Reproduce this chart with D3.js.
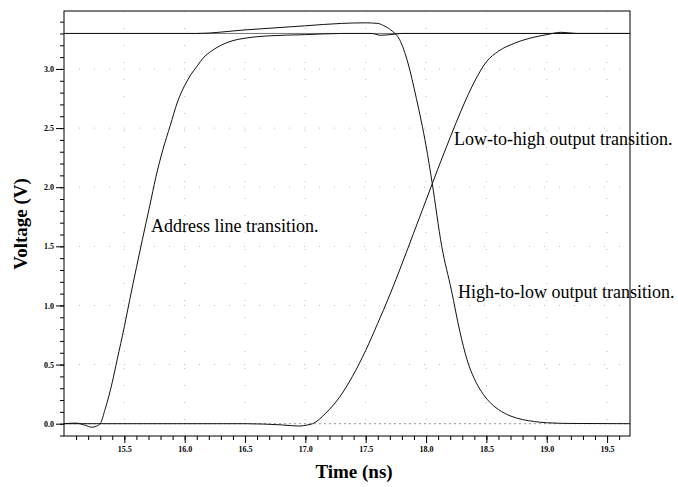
<!DOCTYPE html>
<html>
<head>
<meta charset="utf-8">
<script src="https://cdn.jsdelivr.net/npm/d3@7"></script>
<style>
  body { margin: 0; background: #fff; }
  text { font-family: "Liberation Serif", "Times New Roman", serif; }
</style>
</head>
<body>
<div id="plot"></div>
<script>
// time (ns) / voltage (V)
const addressT = [15.0, 15.1, 15.18, 15.23, 15.27, 15.3, 15.34, 15.4, 15.44, 15.5, 15.545, 15.6, 15.65, 15.71, 15.76, 15.82, 15.88, 15.94, 16.0, 16.05, 16.1, 16.16, 16.22, 16.3, 16.4, 16.5, 16.7, 17.0, 17.3, 17.55, 17.62, 17.7, 17.8, 19.69];
const addressV = [0.0, 0.005, -0.015, -0.03, -0.02, 0.0, 0.12, 0.35, 0.54, 0.82, 1.05, 1.32, 1.56, 1.84, 2.08, 2.32, 2.52, 2.72, 2.86, 2.95, 3.02, 3.1, 3.15, 3.2, 3.24, 3.26, 3.28, 3.29, 3.3, 3.3, 3.285, 3.29, 3.3, 3.3];

const highLowT = [15.0, 16.1, 16.5, 17.0, 17.3, 17.5, 17.6, 17.66, 17.72, 17.78, 17.85, 17.92, 18.0, 18.05, 18.13, 18.21, 18.28, 18.34, 18.4, 18.46, 18.52, 18.6, 18.7, 18.8, 18.9, 19.0, 19.2, 19.69];
const highLowV = [3.3, 3.3, 3.33, 3.365, 3.385, 3.39, 3.385, 3.36, 3.32, 3.25, 3.05, 2.75, 2.35, 2.04, 1.5, 1.13, 0.78, 0.54, 0.38, 0.27, 0.19, 0.12, 0.065, 0.035, 0.018, 0.008, 0.002, 0.0];

const lowHighT = [15.0, 16.5, 16.8, 16.95, 17.02, 17.06, 17.17, 17.28, 17.39, 17.5, 17.6, 17.7, 17.8, 17.9, 18.0, 18.1, 18.2, 18.3, 18.4, 18.5, 18.6, 18.74, 18.9, 19.0, 19.12, 19.25, 19.69];
const lowHighV = [0.0, 0.0, -0.01, -0.02, -0.01, 0.0, 0.09, 0.22, 0.4, 0.62, 0.85, 1.09, 1.35, 1.62, 1.89, 2.16, 2.42, 2.67, 2.89, 3.06, 3.15, 3.22, 3.27, 3.29, 3.31, 3.3, 3.3];

const railV = 3.3;
const xMajor = [15.5, 16.0, 16.5, 17.0, 17.5, 18.0, 18.5, 19.0, 19.5];
const yMajor = [0.0, 0.5, 1.0, 1.5, 2.0, 2.5, 3.0];

const labels = [
  { text: 'Address line transition.', t: 15.721, v: 1.62 },
  { text: 'Low-to-high output transition.', t: 18.232, v: 2.355 },
  { text: 'High-to-low output transition.', t: 18.265, v: 1.06 }
];

const W = 678, H = 487;
const m = { left: 64, right: 630, top: 11, bottom: 436 };

const svg = d3.select('#plot').append('svg')
  .attr('width', W)
  .attr('height', H);

const x = d3.scaleLinear().domain([15.0, 19.69]).range([m.left, m.right]);
const y = d3.scaleLinear().domain([-0.104, 3.49]).range([m.bottom, m.top]);

// sparse dotted grid
svg.append('g').selectAll('line')
  .data(yMajor.concat([3.3]))
  .enter().append('line')
  .attr('x1', m.left).attr('x2', m.right)
  .attr('y1', d => y(d)).attr('y2', d => y(d))
  .attr('stroke', '#bbb')
  .attr('stroke-dasharray', '1,14');
svg.append('g').selectAll('line')
  .data(xMajor)
  .enter().append('line')
  .attr('x1', d => x(d)).attr('x2', d => x(d))
  .attr('y1', m.top).attr('y2', m.bottom)
  .attr('stroke', '#bbb')
  .attr('stroke-dasharray', '1,16');

// rails
svg.append('line')
  .attr('x1', m.left).attr('x2', m.right)
  .attr('y1', y(railV)).attr('y2', y(railV))
  .attr('stroke', '#777');
svg.append('line')
  .attr('x1', m.left).attr('x2', m.right)
  .attr('y1', y(0)).attr('y2', y(0))
  .attr('stroke', '#999')
  .attr('stroke-dasharray', '2,3');

// axes
const xAxis = d3.axisBottom(x)
  .tickValues(d3.range(151, 197).map(d => d / 10))
  .tickSize(4)
  .tickFormat('');
svg.append('g').attr('transform', `translate(0,${m.bottom})`).call(xAxis);
const xMaj = d3.axisBottom(x)
  .tickValues(xMajor)
  .tickSize(7)
  .tickPadding(3)
  .tickFormat(d3.format('.1f'));
svg.append('g').attr('class', 'ax').attr('transform', `translate(0,${m.bottom})`).call(xMaj);

const yAxis = d3.axisLeft(y)
  .tickValues(d3.range(-1, 35).map(d => d / 10))
  .tickSize(4)
  .tickFormat('');
svg.append('g').attr('transform', `translate(${m.left},0)`).call(yAxis);
const yMaj = d3.axisLeft(y)
  .tickValues(yMajor)
  .tickSize(8)
  .tickPadding(2)
  .tickFormat(d3.format('.1f'));
svg.append('g').attr('class', 'ax').attr('transform', `translate(${m.left},0)`).call(yMaj);

svg.selectAll('.domain').remove();
svg.selectAll('.tick line').attr('stroke', '#000');
svg.selectAll('.ax text')
  .style('font-family', '"Liberation Serif", serif')
  .style('font-size', '8px')
  .style('font-weight', 'bold')
  .attr('fill', '#000');

// frame
svg.append('rect')
  .attr('x', m.left).attr('y', m.top)
  .attr('width', m.right - m.left).attr('height', m.bottom - m.top)
  .attr('fill', 'none')
  .attr('stroke', '#000');

// curves
const line = d3.line()
  .x(d => x(d[0]))
  .y(d => y(d[1]))
  .curve(d3.curveMonotoneX);

[[addressT, addressV], [highLowT, highLowV], [lowHighT, lowHighV]].forEach(([ts, vs]) => {
  svg.append('path')
    .datum(ts.map((t, i) => [t, vs[i]]))
    .attr('d', line)
    .attr('fill', 'none')
    .attr('stroke', '#111')
    .attr('stroke-width', 1);
});

// annotations
svg.selectAll('text.lab')
  .data(labels)
  .enter().append('text')
  .attr('class', 'lab')
  .attr('x', d => x(d.t))
  .attr('y', d => y(d.v))
  .style('font-size', '18px')
  .text(d => d.text);

// axis titles
svg.append('text')
  .attr('x', 354).attr('y', 478)
  .attr('text-anchor', 'middle')
  .style('font-size', '19px')
  .style('font-weight', 'bold')
  .text('Time (ns)');
svg.append('text')
  .attr('transform', 'translate(27,224) rotate(-90)')
  .attr('text-anchor', 'middle')
  .style('font-size', '19px')
  .style('font-weight', 'bold')
  .text('Voltage (V)');
</script>
</body>
</html>
